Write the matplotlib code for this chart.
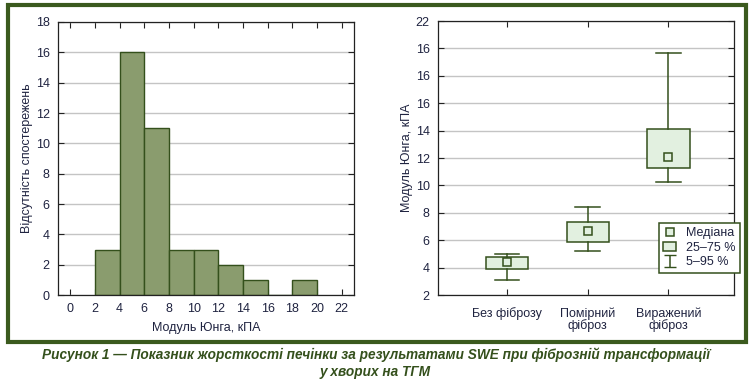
import numpy as np
import matplotlib.pyplot as plt
from matplotlib.patches import Rectangle, Patch
from matplotlib.lines import Line2D

# histogram data (bin edges and counts)
bin_edges = [2, 4, 6, 8, 10, 12, 14, 16, 18, 20]
counts = [3, 16, 11, 3, 3, 2, 1, 0, 1]
hist_xticks = list(range(0, 23, 2))
hist_yticks = list(range(0, 19, 2))

# box plot data
groups = ["Без фіброзу", "Помірний\nфіброз", "Виражений\nфіброз"]
p05 = [3.07, 5.2, 10.27]
q25 = [3.9, 5.9, 11.25]
median = [4.4, 6.65, 12.1]
q75 = [4.75, 7.3, 14.15]
p95 = [4.97, 8.4, 19.7]
box_yticks = list(range(2, 23, 2))
box_ylabels = ["2", "4", "6", "8", "10", "12", "14", "16", "16", "16", "22"]

plt.rcParams['font.family'] = ['Liberation Sans', 'DejaVu Sans']
dark = "#34501c"
txt = "#1f2340"
W, H = 751, 389

fig = plt.figure(figsize=(W / 100, H / 100), dpi=100)

def px_axes(x0, y0, x1, y1):
    return fig.add_axes([x0 / W, 1 - y1 / H, (x1 - x0) / W, (y1 - y0) / H])

def style(ax):
    ax.tick_params(direction='in', length=4, width=0.8, top=True, right=True,
                   labelsize=9, labelcolor=txt, color="#222222", pad=6)
    for s in ax.spines.values():
        s.set_color("#222222")
        s.set_linewidth(0.9)
    ax.yaxis.grid(True, color="#c4c4c4", linewidth=1)
    ax.set_axisbelow(True)

# left: histogram
ax1 = px_axes(58, 22, 354, 295)
ax1.hist(np.array(bin_edges[:-1]) + 1, bins=bin_edges, weights=counts,
         color="#8a9c6e", edgecolor=dark, linewidth=1)
ax1.set_xlim(-1, 23)
ax1.set_ylim(0, 18)
ax1.set_xticks(hist_xticks)
ax1.set_yticks(hist_yticks)
style(ax1)
ax1.set_xlabel("Модуль Юнга, кПА", fontsize=9, color=txt, labelpad=5)
ax1.set_ylabel("Відсутність спостережень", fontsize=9, color=txt, labelpad=2)

# right: box plot
ax2 = px_axes(438, 21, 734, 295)
pos = [1, 2, 3]
stats = [dict(whislo=p05[i], q1=q25[i], med=median[i], q3=q75[i], whishi=p95[i])
         for i in range(3)]
ax2.bxp(stats, positions=pos, widths=0.52, patch_artist=True, showfliers=False,
        boxprops=dict(facecolor="#e2f0e0", edgecolor=dark, linewidth=1.1),
        whiskerprops=dict(color=dark, linewidth=1.1),
        capprops=dict(color=dark, linewidth=1.1),
        medianprops=dict(visible=False), capwidths=0.3)
ax2.plot(pos, median, 's', ms=6, mfc="#e2f0e0", mec=dark, mew=1.1, ls='none')
ax2.set_xlim(0.15, 3.81)
ax2.set_ylim(2, 22)
ax2.set_yticks(box_yticks)
ax2.set_yticklabels(box_ylabels)
ax2.set_xticks(pos)
ax2.set_xticklabels(groups, linespacing=0.95)
style(ax2)
ax2.tick_params(axis='x', pad=9)
ax2.set_ylabel("Модуль Юнга, кПА", fontsize=9, color=txt, labelpad=2)

eb = ax2.errorbar([-10], [5], yerr=1, fmt='none', ecolor=dark, elinewidth=1.1, capsize=4)
handles = [Line2D([], [], marker='s', ls='none', ms=6, mfc="#e2f0e0", mec=dark, mew=1.1),
           Patch(facecolor="#e2f0e0", edgecolor=dark, linewidth=1.1),
           eb]
leg = ax2.legend(handles, ["Медіана", "25–75 %", "5–95 %"], loc='upper left',
                 bbox_to_anchor=((659 - 438) / 296, (295 - 223) / 274),
                 fontsize=9, frameon=True, fancybox=False, framealpha=1,
                 handlelength=1.0, handletextpad=0.8, borderpad=0.35,
                 labelspacing=0.2, borderaxespad=0)
leg.get_frame().set_edgecolor(dark)
leg.get_frame().set_linewidth(1.1)
for t in leg.get_texts():
    t.set_color(txt)

# outer frame
fig.patches.append(Rectangle((8 / W, 1 - 342 / H), (746 - 8) / W, (342 - 5) / H,
                             transform=fig.transFigure, fill=False,
                             edgecolor="#3b5a1e", linewidth=3))

cap_font = ['Liberation Sans Narrow', 'Liberation Sans', 'DejaVu Sans']
fig.text(0.5, 1 - 355 / H, "Рисунок 1 — Показник жорсткості печінки за результатами SWE при фіброзній трансформації",
         ha='center', va='center', fontsize=9.8, fontweight='bold', style='italic',
         color="#34501c", family=cap_font)
fig.text(0.5, 1 - 372 / H, "у хворих на ТГМ",
         ha='center', va='center', fontsize=9.8, fontweight='bold', style='italic',
         color="#34501c", family=cap_font)

fig.savefig("out.png", dpi=100)
